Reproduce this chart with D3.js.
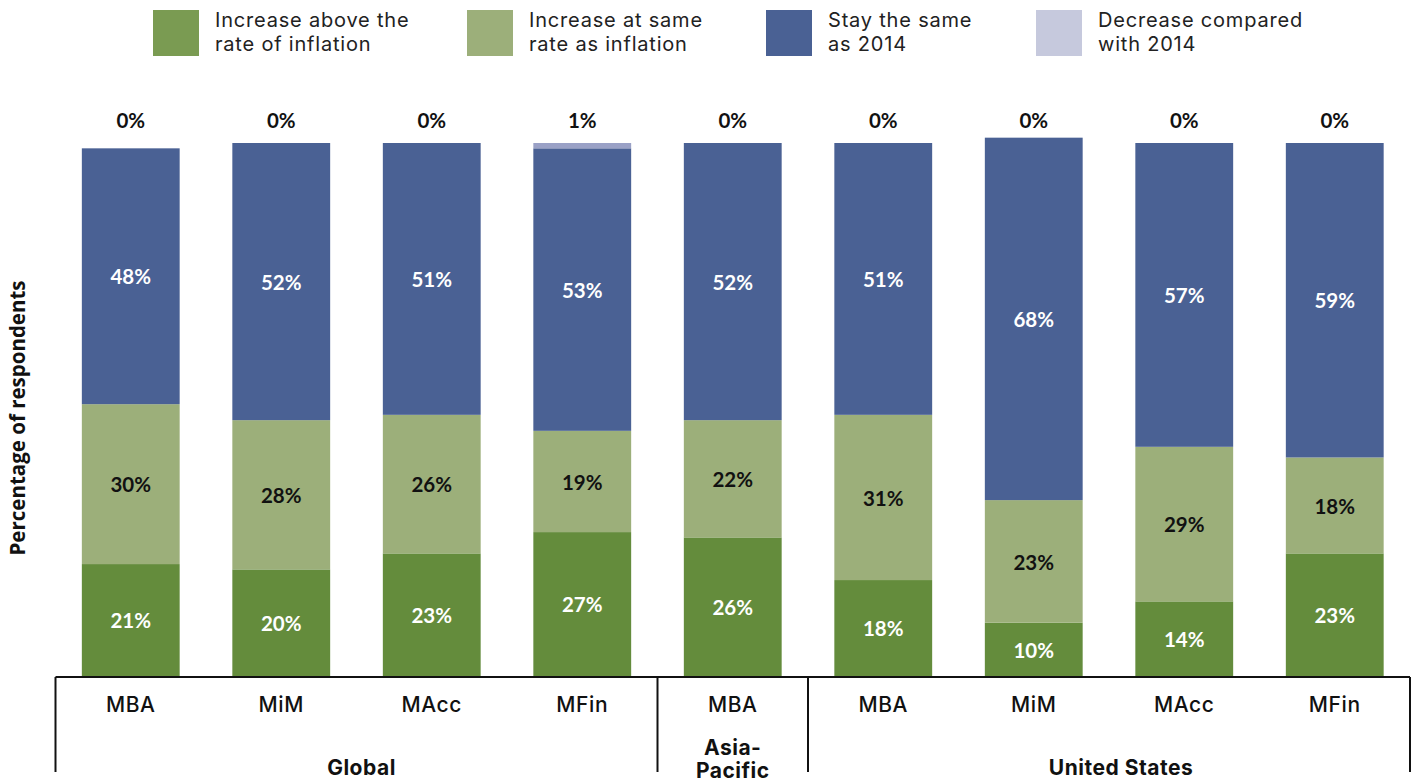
<!DOCTYPE html>
<html>
<head>
<meta charset="utf-8">
<script src="https://cdn.jsdelivr.net/npm/d3@7/dist/d3.min.js"></script>
<style>
  html, body { margin: 0; padding: 0; background: #fff; }
  svg { display: block; }
</style>
</head>
<body>
<svg id="chart" width="1413" height="781"></svg>
<script>
// Programme types and the region groups they belong to
const programmes = ["MBA", "MiM", "MAcc", "MFin", "MBA", "MBA", "MiM", "MAcc", "MFin"];
const groups = [
  { name: ["Global"], from: 0, to: 3, shift: 5 },
  { name: ["Asia-", "Pacific"], from: 4, to: 4, shift: 0 },
  { name: ["United States"], from: 5, to: 8, shift: 12 }
];

// Share of respondents (%) per expectation
const increaseAbove = [21, 20, 23, 27, 26, 18, 10, 14, 23];
const increaseSame  = [30, 28, 26, 19, 22, 31, 23, 29, 18];
const staySame      = [48, 52, 51, 53, 52, 51, 68, 57, 59];
const decrease      = [0, 0, 0, 1, 0, 0, 0, 0, 0];

const seriesNames = [
  ["Increase above the", "rate of inflation"],
  ["Increase at same", "rate as inflation"],
  ["Stay the same", "as 2014"],
  ["Decrease compared", "with 2014"]
];
const seriesKeys = ["above", "same", "stay", "decrease"];
const barColors    = ["#648c3c", "#9caf7a", "#4a6194", "#9aa1c6"];
const swatchColors = ["#7a9b52", "#9caf7a", "#4a6194", "#c6c9dd"];
const labelColors  = ["#ffffff", "#111111", "#ffffff", "#111111"];

const rows = programmes.map((p, i) => ({
  idx: i,
  above: increaseAbove[i],
  same: increaseSame[i],
  stay: staySame[i],
  decrease: decrease[i]
}));

const svg = d3.select("#chart");
const labelFont = "Inter, 'Noto Sans', sans-serif";
const valueFont = "Lato, 'Open Sans', sans-serif";

const x = d3.scaleBand()
  .domain(d3.range(programmes.length))
  .range([55.5, 1410])
  .paddingInner(0.35)
  .paddingOuter(0.175);

const y = d3.scaleLinear().domain([0, 100]).range([676, 143]);

const stack = d3.stack().keys(seriesKeys);
const stacked = stack(rows);

// Bars
const layers = svg.append("g").selectAll("g")
  .data(stacked)
  .join("g")
  .attr("fill", (d, i) => barColors[i]);

layers.selectAll("rect")
  .data(d => d)
  .join("rect")
  .attr("x", d => x(d.data.idx))
  .attr("width", x.bandwidth())
  .attr("y", d => y(d[1]))
  .attr("height", d => y(d[0]) - y(d[1]));

// Labels inside the three main segments
stacked.slice(0, 3).forEach((layer, li) => {
  svg.append("g").selectAll("text")
    .data(layer)
    .join("text")
    .attr("x", d => x(d.data.idx) + x.bandwidth() / 2)
    .attr("y", d => (y(d[0]) + y(d[1])) / 2 + 1)
    .attr("dy", "0.35em")
    .attr("text-anchor", "middle")
    .attr("font-family", valueFont)
    .attr("font-weight", 700)
    .attr("font-size", 20.5)
    .attr("fill", labelColors[li])
    .text(d => (d[1] - d[0]) + "%");
});

// "Decrease" shares shown above each bar
svg.append("g").selectAll("text")
  .data(rows)
  .join("text")
  .attr("x", d => x(d.idx) + x.bandwidth() / 2)
  .attr("y", 121)
  .attr("dy", "0.35em")
  .attr("text-anchor", "middle")
  .attr("font-family", valueFont)
  .attr("font-weight", 700)
  .attr("font-size", 20.5)
  .attr("fill", "#111")
  .text(d => d.decrease + "%");

// Category axis
const axisG = svg.append("g").attr("stroke", "#111").attr("stroke-width", 2);
axisG.append("line")
  .attr("x1", x.range()[0]).attr("x2", x.range()[1])
  .attr("y1", 677).attr("y2", 677);

const step = x.step();
const edgeAt = i => x(i) - x.paddingInner() * step / 2;
const endAt = i => x(i) + x.bandwidth() + x.paddingInner() * step / 2;
const boundaries = [edgeAt(0), edgeAt(4), edgeAt(5), endAt(8)];
axisG.selectAll("line.sep")
  .data(boundaries)
  .join("line")
  .attr("class", "sep")
  .attr("x1", d => d).attr("x2", d => d)
  .attr("y1", 677).attr("y2", 772);

svg.append("g").selectAll("text")
  .data(programmes)
  .join("text")
  .attr("x", (d, i) => x(i) + x.bandwidth() / 2)
  .attr("y", 705)
  .attr("dy", "0.35em")
  .attr("text-anchor", "middle")
  .attr("font-family", labelFont)
  .attr("font-weight", 500)
  .attr("font-size", 21)
  .attr("letter-spacing", 0.6)
  .attr("fill", "#111")
  .text(d => d);

// Region group labels
groups.forEach(g => {
  const cx = (edgeAt(g.from) + endAt(g.to)) / 2 + g.shift;
  const t = svg.append("text")
    .attr("x", cx)
    .attr("text-anchor", "middle")
    .attr("font-family", labelFont)
    .attr("font-weight", 700)
    .attr("font-size", 21)
    .attr("letter-spacing", 0.5)
    .attr("fill", "#111");
  const startY = g.name.length > 1 ? 755 : 775;
  g.name.forEach((line, k) => {
    t.append("tspan").attr("x", cx).attr("y", startY + k * 23).text(line);
  });
});

// Y axis title
svg.append("text")
  .attr("transform", "translate(25,418) rotate(-90)")
  .attr("text-anchor", "middle")
  .attr("font-family", "'Open Sans', Lato, sans-serif")
  .attr("font-weight", 700)
  .attr("font-size", 20.5)
  .attr("fill", "#111")
  .text("Percentage of respondents");

// Legend
const legendX = [153, 467, 766, 1036];
const legend = svg.append("g").selectAll("g")
  .data(seriesNames)
  .join("g")
  .attr("transform", (d, i) => `translate(${legendX[i]},10)`);

legend.append("rect")
  .attr("width", 46).attr("height", 46)
  .attr("fill", (d, i) => swatchColors[i]);

legend.append("text")
  .attr("font-family", labelFont)
  .attr("font-weight", 400)
  .attr("font-size", 20)
  .attr("letter-spacing", 0.8)
  .attr("fill", "#222")
  .selectAll("tspan")
  .data(d => d)
  .join("tspan")
  .attr("x", 62)
  .attr("y", (d, k) => 17 + k * 24)
  .text(d => d);
</script>
</body>
</html>
